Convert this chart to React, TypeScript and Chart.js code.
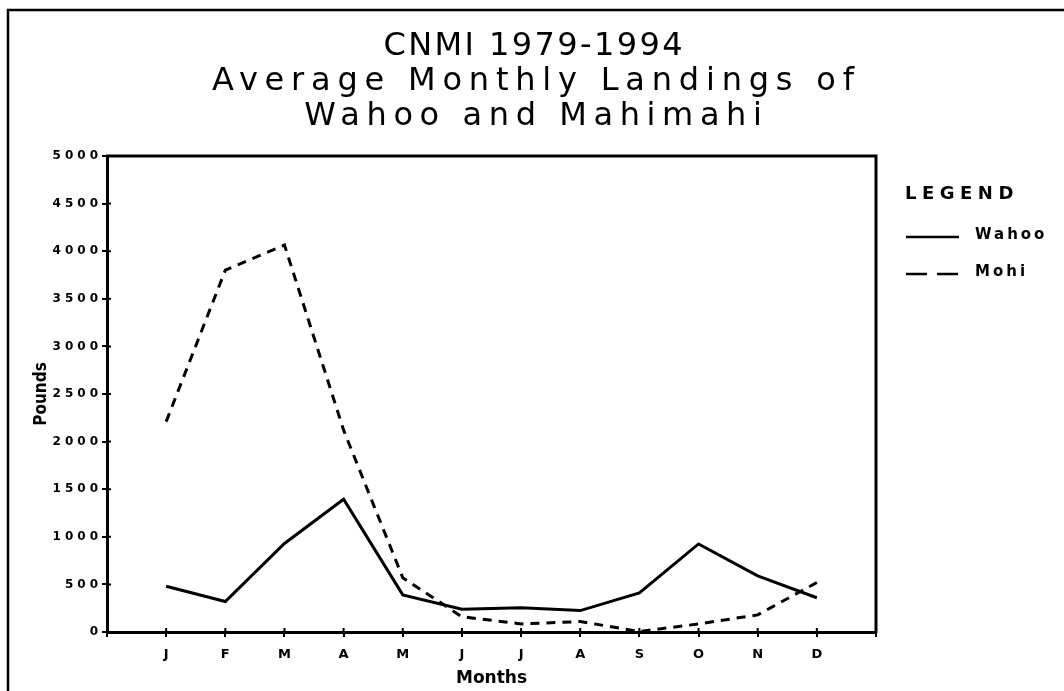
import React, { useEffect, useRef } from 'react';
import { Chart, registerables } from 'chart.js';

Chart.register(...registerables);

// ---- data ----
const MONTHS = ['J', 'F', 'M', 'A', 'M', 'J', 'J', 'A', 'S', 'O', 'N', 'D'];
const MONTH_POS = [1, 2, 3, 4, 5, 6, 7, 8, 9, 10, 11, 12];
const WAHOO = [480, 320, 930, 1395, 390, 240, 255, 225, 410, 925, 590, 360];
const MAHI = [2210, 3800, 4065, 2120, 570, 160, 85, 110, 5, 85, 180, 520];
const SERIES_LABELS = ['Wahoo', 'Mohi'];
const TITLE_LINES = ['CNMI 1979-1994', 'Average Monthly Landings of', 'Wahoo and Mahimahi'];
const Y_MIN = 0;
const Y_MAX = 5000;
const Y_STEP = 500;
const X_MIN = 0;
const X_MAX = 13;

// ---- styles ----
const W = 1064;
const H = 691;
const FONT = '"DejaVu Sans", sans-serif';
const NARROW = '"Liberation Sans Narrow", "DejaVu Sans Condensed", sans-serif';
const TITLE_Y = [47, 82, 117];
const TITLE_SIZE = 32;
const TITLE_LS = [2.4, 6.8, 6.6];
const TITLE_CX = 533;

function spaced(px: number, font: any) {
  return (c: any) => {
    if (c && c.chart && c.chart.ctx) c.chart.ctx.letterSpacing = px + 'px';
    return font;
  };
}

const decorPlugin = {
  id: 'decor',
  beforeDraw(chart: any) {
    const ctx = chart.ctx;
    ctx.save();
    ctx.fillStyle = '#fff';
    ctx.fillRect(0, 0, chart.width, chart.height);
    ctx.restore();
    ctx.letterSpacing = '0px';
  },
  afterDraw(chart: any) {
    const ctx = chart.ctx;
    const a = chart.chartArea;
    ctx.save();
    ctx.letterSpacing = '0px';
    ctx.strokeStyle = '#000';
    ctx.fillStyle = '#000';
    ctx.setLineDash([]);

    // outer page frame
    ctx.lineWidth = 2.5;
    ctx.strokeRect(8, 10, 1200, 1000);

    // plot frame (top + right)
    ctx.lineWidth = 3;
    ctx.beginPath();
    ctx.moveTo(a.left - 1, a.top);
    ctx.lineTo(a.right, a.top);
    ctx.lineTo(a.right, a.bottom + 1);
    ctx.stroke();

    // inward tick marks
    const xs = chart.scales.x;
    const ys = chart.scales.y;
    ctx.lineWidth = 2;
    ctx.beginPath();
    xs.ticks.forEach((t: any) => {
      if (t.value <= X_MIN || t.value >= X_MAX) return;
      const px = xs.getPixelForValue(t.value);
      ctx.moveTo(px, a.bottom);
      ctx.lineTo(px, a.bottom - 4);
    });
    ys.ticks.forEach((t: any) => {
      if (t.value <= Y_MIN || t.value >= Y_MAX) return;
      const py = ys.getPixelForValue(t.value);
      ctx.moveTo(a.left, py);
      ctx.lineTo(a.left + 4, py);
    });
    ctx.stroke();

    // title
    ctx.font = TITLE_SIZE + 'px ' + FONT;
    ctx.textAlign = 'center';
    ctx.textBaseline = 'middle';
    TITLE_LINES.forEach((t, i) => {
      ctx.letterSpacing = TITLE_LS[i] + 'px';
      ctx.fillText(t, TITLE_CX + TITLE_LS[i] / 2, TITLE_Y[i]);
    });

    // legend
    ctx.textAlign = 'left';
    ctx.font = 'bold 18px ' + FONT;
    ctx.letterSpacing = '5.5px';
    ctx.fillText('LEGEND', 905, 194);
    ctx.font = 'bold 15px ' + FONT;
    ctx.letterSpacing = '3px';
    const rowsY = [237, 274];
    chart.data.datasets.forEach((ds: any, i: number) => {
      const y = rowsY[i];
      ctx.save();
      ctx.letterSpacing = '0px';
      ctx.lineWidth = 2.5;
      ctx.setLineDash(ds.borderDash && ds.borderDash.length ? [21, 10] : []);
      ctx.beginPath();
      ctx.moveTo(906, y);
      ctx.lineTo(959, y);
      ctx.stroke();
      ctx.restore();
      ctx.fillText(ds.label, 975, y - 2);
    });

    ctx.restore();
    ctx.letterSpacing = '0px';
  },
};

export default function App() {
  const ref = useRef<HTMLCanvasElement | null>(null);

  useEffect(() => {
    const canvas = ref.current;
    if (!canvas) return;
    const chart = new Chart(canvas, {
      type: 'line',
      data: {
        datasets: [
          {
            label: SERIES_LABELS[0],
            data: MONTH_POS.map((x, i) => ({ x, y: WAHOO[i] })),
            borderColor: '#000',
            backgroundColor: '#000',
            borderWidth: 3,
            pointRadius: 0,
            tension: 0,
            fill: false,
          },
          {
            label: SERIES_LABELS[1],
            data: MONTH_POS.map((x, i) => ({ x, y: MAHI[i] })),
            borderColor: '#000',
            backgroundColor: '#000',
            borderWidth: 3,
            borderDash: [9, 7],
            pointRadius: 0,
            tension: 0,
            fill: false,
          },
        ],
      },
      options: {
        animation: false,
        responsive: false,
        maintainAspectRatio: false,
        layout: { padding: { top: 156, right: 188, bottom: 0, left: 0 } },
        plugins: {
          legend: { display: false },
          title: { display: false },
          tooltip: { enabled: false },
        },
        scales: {
          x: {
            type: 'linear',
            min: X_MIN,
            max: X_MAX,
            afterFit: (s: any) => {
              s.height = 59;
            },
            afterBuildTicks: (s: any) => {
              s.ticks = [X_MIN, ...MONTH_POS, X_MAX].map((v) => ({ value: v }));
            },
            ticks: {
              autoSkip: false,
              maxRotation: 0,
              minRotation: 0,
              color: '#000',
              padding: 10,
              font: spaced(0, { family: FONT, size: 13, weight: 'bold' }),
              callback: (v: any) => (MONTHS[Number(v) - 1] ?? ''),
            },
            grid: { drawOnChartArea: false, tickLength: 5, color: '#000', lineWidth: 2 },
            border: { color: '#000', width: 3 },
            title: {
              display: true,
              text: 'Months',
              color: '#000',
              font: spaced(4, { family: FONT, size: 17, weight: 'bold' }),
              padding: { top: 0, bottom: 2 },
            },
          },
          y: {
            min: Y_MIN,
            max: Y_MAX,
            afterFit: (s: any) => {
              s.width = 107;
            },
            ticks: {
              stepSize: Y_STEP,
              color: '#000',
              padding: 0,
              font: spaced(4, { family: FONT, size: 12, weight: 'bold' }),
              callback: (v: any) => String(v),
            },
            grid: { drawOnChartArea: false, tickLength: 5, color: '#000', lineWidth: 2 },
            border: { color: '#000', width: 3 },
            title: {
              display: true,
              text: 'Pounds',
              color: '#000',
              font: spaced(0, { family: NARROW, size: 17, weight: 'bold' }),
              padding: { top: 31, bottom: 0 },
            },
          },
        },
      },
      plugins: [decorPlugin],
    } as any);
    return () => chart.destroy();
  }, []);

  return (
    <div style={{ position: 'fixed', left: 0, top: 0, width: W, height: H, background: '#fff' }}>
      <canvas ref={ref} width={W} height={H} style={{ display: 'block', width: W, height: H }} />
    </div>
  );
}
